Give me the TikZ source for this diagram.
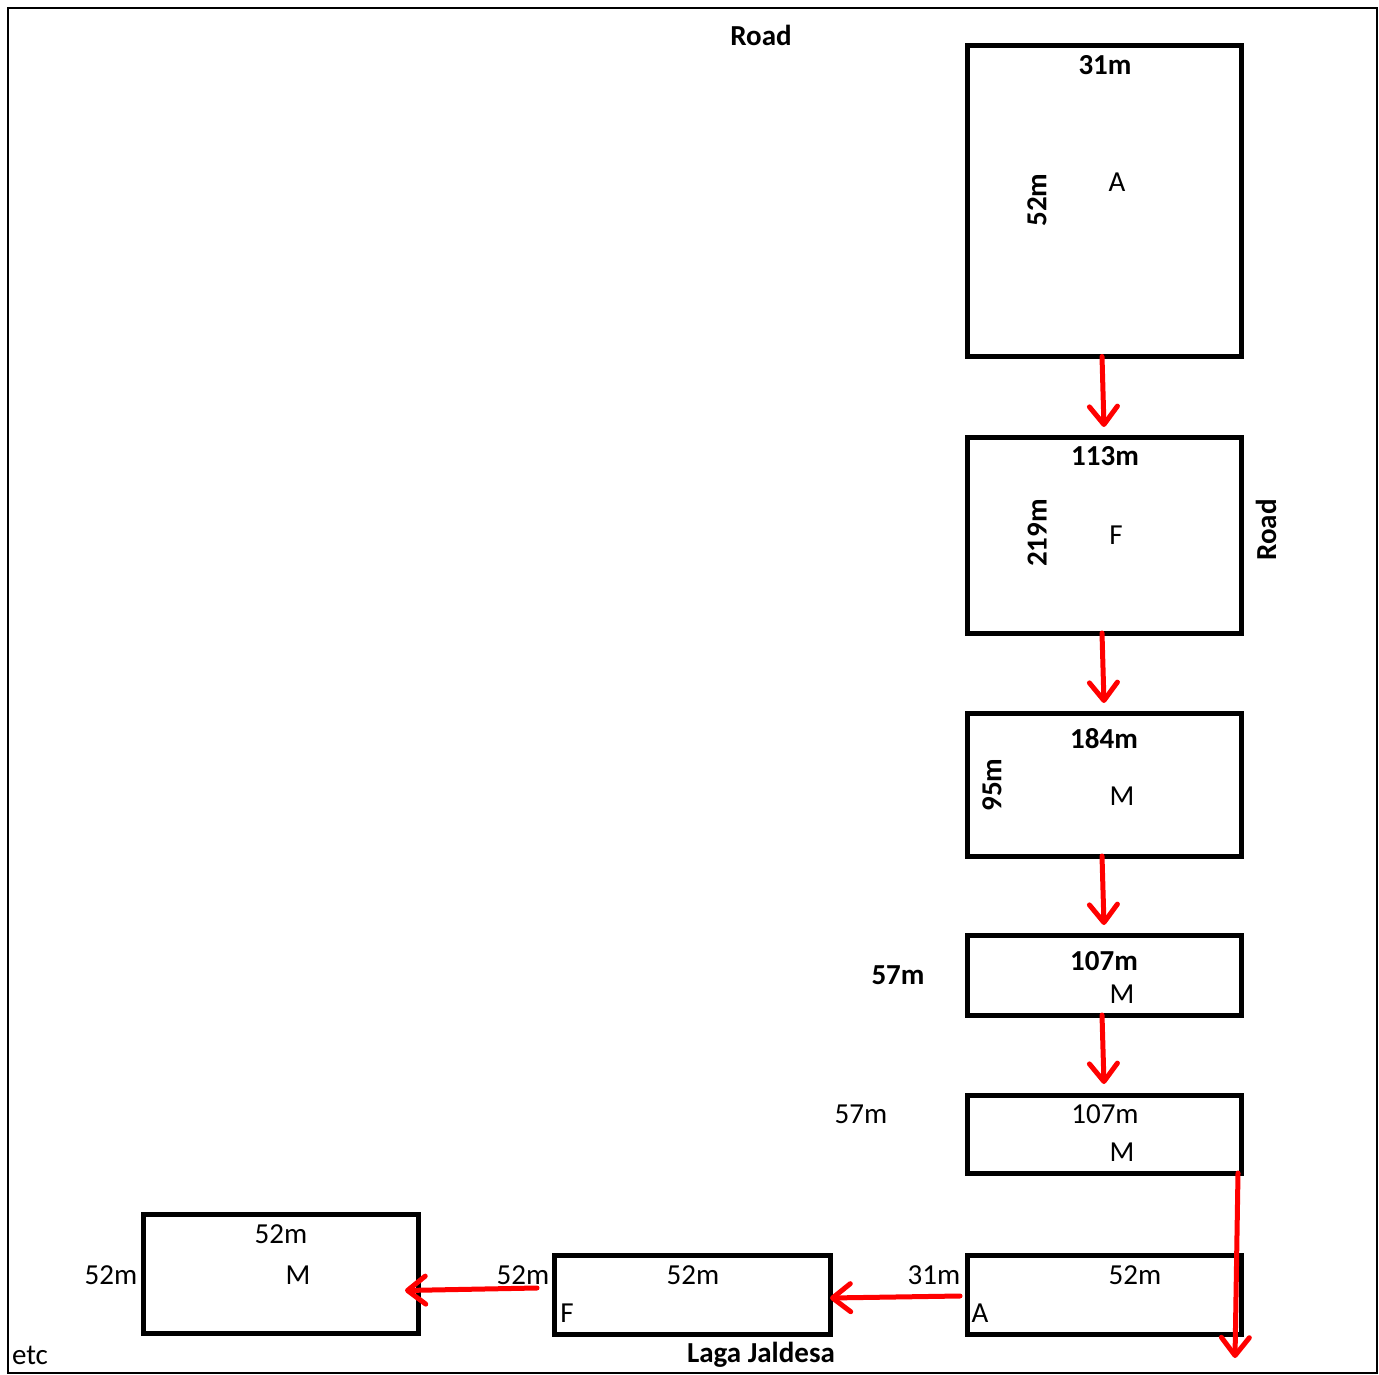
\documentclass[tikz,border=0pt]{standalone}
\usepackage{fontspec}
\setmainfont{Carlito}
\usetikzlibrary{arrows.meta}
\begin{document}
\begin{tikzpicture}[x=1pt,y=-1pt,
  plot/.style={draw=black,line width=5pt,inner sep=0pt,outer sep=0pt},
  lbl/.style={font=\fontsize{29}{33}\selectfont,inner sep=0pt},
  blbl/.style={font=\fontsize{29}{33}\selectfont\bfseries,inner sep=0pt},
  redarrow/.style={draw=red,line width=5pt,line cap=round,-{Straight Barb[length=18pt,width=28pt,line width=5pt,round]}}]
\useasboundingbox (0,0) rectangle (1379,1375);
\draw[line width=2.5pt] (8,8) rectangle (1377,1373);
% plots
\node[plot,minimum width=274pt,minimum height=311pt] (a1) at (1104,201) {};
\node[plot,minimum width=274pt,minimum height=196pt] (f1) at (1104,535) {};
\node[plot,minimum width=274pt,minimum height=143pt] (m1) at (1104,784.5) {};
\node[plot,minimum width=274pt,minimum height=80pt] (m2) at (1104,975) {};
\node[plot,minimum width=274pt,minimum height=78pt] (m3) at (1104,1134) {};
\node[plot,minimum width=274pt,minimum height=79pt] (a2) at (1104,1294.5) {};
\node[plot,minimum width=276pt,minimum height=79pt] (f2) at (692,1294.5) {};
\node[plot,minimum width=275pt,minimum height=119pt] (m4) at (280.5,1273.5) {};
% labels
\node[blbl] (roadtop) at (761,35) {Road};
\node[blbl] (t1) at (1105,65) {31m};
\node[blbl,rotate=90] (s1) at (1037,200) {52m};
\node[lbl] (l1) at (1117,182) {A};
\node[blbl] (t2) at (1105,456) {113m};
\node[blbl,rotate=90] (s2) at (1037,533) {219m};
\node[lbl] (l2) at (1116,535) {F};
\node[blbl,rotate=90] (roadright) at (1266,530) {Road};
\node[blbl] (t3) at (1104,739) {184m};
\node[blbl,rotate=90] (s3) at (992,785) {95m};
\node[lbl] (l3) at (1122,796) {M};
\node[blbl] (s4) at (898,975) {57m};
\node[blbl] (t4) at (1104,961) {107m};
\node[lbl] (l4) at (1122,994) {M};
\node[lbl] (s5) at (861,1114) {57m};
\node[lbl] (t5) at (1105,1114) {107m};
\node[lbl] (l5) at (1122,1152) {M};
\node[lbl] (s6) at (934,1275) {31m};
\node[lbl] (t6) at (1135,1275) {52m};
\node[lbl] (l6) at (980,1313) {A};
\node[lbl] (s7) at (523,1275) {52m};
\node[lbl] (t7) at (693,1275) {52m};
\node[lbl] (l7) at (567,1313) {F};
\node[blbl] (laga) at (761,1355) {Laga Jaldesa};
\node[lbl] (s8) at (111,1275) {52m};
\node[lbl] (t8) at (281,1234) {52m};
\node[lbl] (l8) at (298,1275) {M};
\node[lbl] (etc) at (30,1355) {etc};
% arrows
\coordinate (endv) at (1235,1358);
\draw[redarrow] ([xshift=-2pt]a1.south) -- ([yshift=10pt]f1.north);
\draw[redarrow] ([xshift=-2pt]f1.south) -- ([yshift=10pt]m1.north);
\draw[redarrow] ([xshift=-2pt]m1.south) -- ([yshift=10pt]m2.north);
\draw[redarrow] ([xshift=-2pt]m2.south) -- ([yshift=11pt]m3.north);
\draw[redarrow] ([xshift=-3pt]m3.south east) -- (endv);
\draw[redarrow] ([xshift=-7pt,yshift=-1.5pt]a2.west) -- ([yshift=-3.5pt]f2.east);
\draw[redarrow] ([xshift=-17pt,yshift=6.5pt]f2.west) -- ([xshift=-13pt,yshift=-17pt]m4.east);
\end{tikzpicture}
\end{document}
